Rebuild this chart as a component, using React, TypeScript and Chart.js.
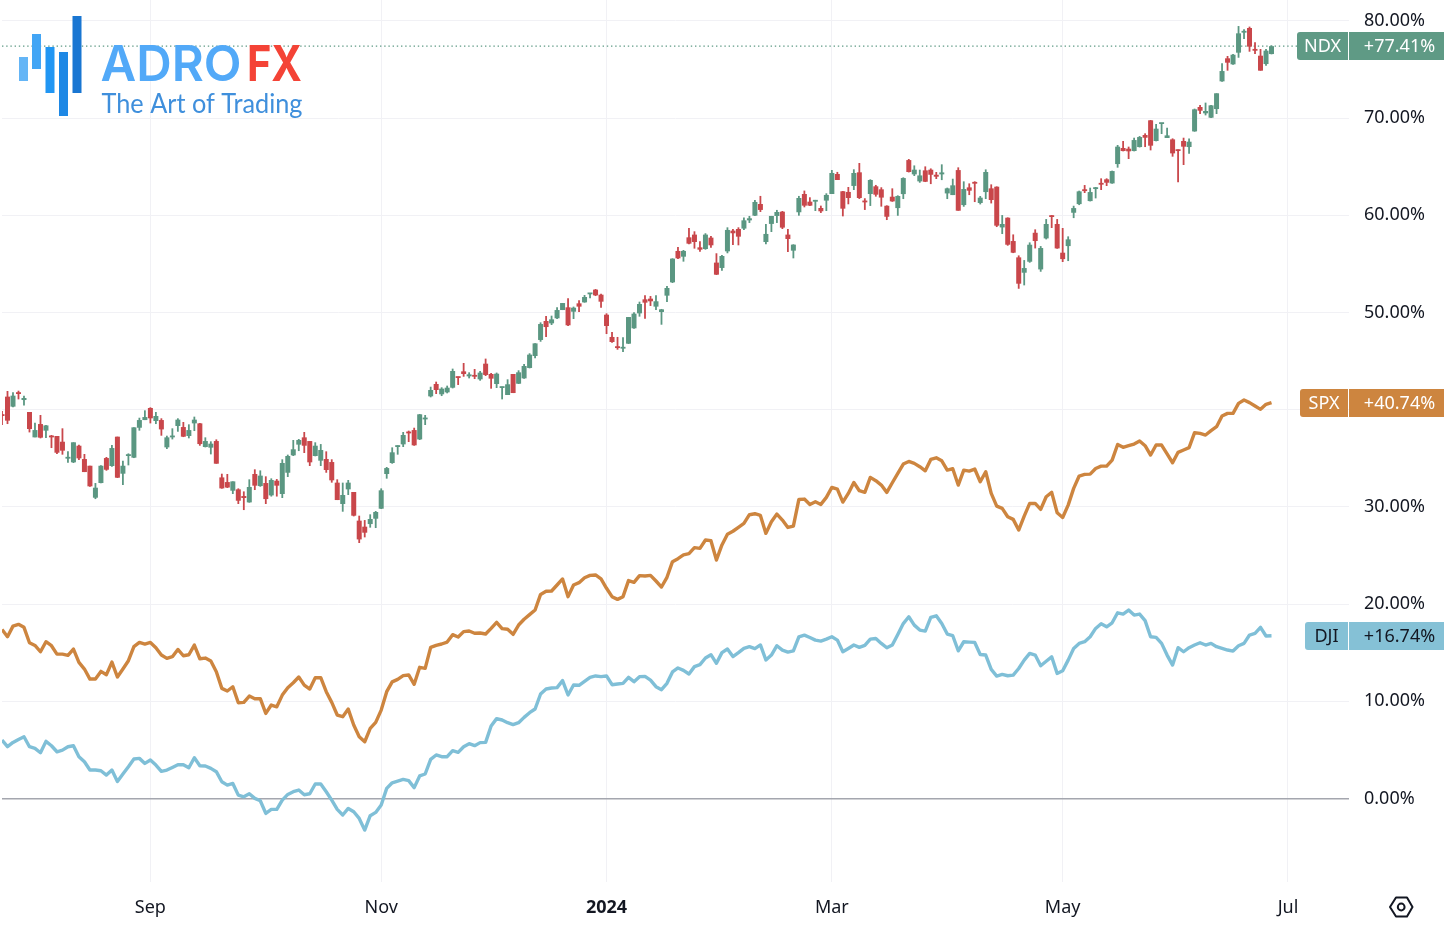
import React, { useEffect, useRef } from "react";
import { Chart, registerables } from "chart.js";

Chart.register(...registerables);

const xTickIndex = [27, 69, 110, 151, 193, 234];
const xTickLabels = ["Sep", "Nov", "2024", "Mar", "May", "Jul"];
const yTickValues = [0, 10, 20, 30, 40, 50, 60, 70, 80];

const ndxHigh = [
  39.87,41.93,41.79,41.96,41.45,39.77,38.67,39.46,38.43,37.4,
  37.3,38.09,35.72,36.65,36.41,35.45,34.24,32.46,34.28,35.14,
  36.37,37.23,34.76,35.51,38.19,39.18,39.94,40.25,39.77,39.12,
  37.33,38.09,39.12,38.74,38.5,39.29,38.64,37.16,36.75,36.95,
  33.42,33.39,32.63,31.91,31.6,32.84,33.87,33.76,33.15,32.94,
  32.87,34.9,35.38,36.89,36.99,37.71,36.78,36.65,36.47,35.72,
  34.9,32.84,32.5,32.77,31.54,29.1,28.65,29.24,29.58,31.91,
  34.11,36.13,36.34,37.71,37.85,38.15,39.56,39.46,42.37,42.89,
  42.31,42.48,44.23,43.4,44.81,43.85,44.19,43.99,45.26,43.78,
  43.82,42.37,43.13,43.68,44.06,44.71,45.81,46.83,48.99,49.65,
  49.68,50.54,50.98,51.46,50.61,51.26,51.81,52.01,52.42,51.94,
  49.92,48.0,47.49,47.45,49.54,50.02,51.12,51.77,51.7,51.77,
  50.37,52.73,55.58,56.75,56.44,58.7,58.36,57.33,58.16,57.88,
  56.1,55.93,58.77,58.6,58.77,59.77,59.94,61.59,62.0,59.12,
  59.94,60.56,60.45,58.6,57.02,62.0,62.55,61.86,61.59,61.0,
  62.27,64.67,64.47,62.51,62.92,64.74,65.39,61.76,63.71,63.13,
  62.89,61.03,62.78,62.06,63.91,65.8,65.14,64.7,65.04,64.83,
  64.46,65.25,62.85,63.77,64.94,63.5,63.29,63.5,61.99,64.73,
  63.19,62.98,60.03,59.79,58.04,55.88,55.4,57.22,58.56,56.84,
  59.62,60.03,59.62,58.7,57.84,60.99,62.54,63.12,62.85,62.92,
  63.81,63.81,64.6,67.24,67.65,67.07,67.99,68.16,68.44,69.81,
  69.4,69.5,69.02,67.92,66.79,67.99,67.92,70.98,71.35,71.6,
  71.35,72.56,75.64,76.4,76.6,79.48,79.14,79.42,77.8,77.12,77.12,77.49,
];

const ndxLow = [
  38.43,38.53,40.25,41.07,40.45,37.67,37.16,37.06,37.09,36.06,
  35.45,35.38,34.55,34.52,34.83,33.59,32.08,30.81,32.43,33.73,
  34.14,32.98,32.26,34.28,35.03,37.85,38.94,38.6,38.53,37.33,
  35.96,36.95,37.74,37.19,37.06,37.81,36.3,36.13,35.41,34.45,
  31.88,31.95,31.33,30.3,29.68,30.44,31.74,32.08,30.3,31.07,
  31.07,30.92,33.08,35.24,35.75,35.55,34.21,35.21,34.21,33.52,
  32.5,30.71,29.51,31.23,29.03,26.29,26.87,27.87,27.83,29.79,
  32.91,34.45,35.38,36.17,36.68,36.3,36.89,38.43,41.28,41.62,
  41.41,41.69,42.2,42.55,43.4,43.23,43.16,42.99,43.47,42.17,
  42.24,41.07,41.52,41.72,42.65,43.2,44.26,45.29,47.0,47.49,
  48.72,49.34,50.26,48.62,49.34,50.06,51.02,51.46,51.7,50.5,
  47.79,46.9,46.18,45.94,46.77,48.34,49.58,49.37,50.68,50.26,
  48.75,51.09,53.04,55.51,55.24,57.02,56.58,56.27,56.47,56.68,
  53.87,54.31,56.1,56.95,56.92,58.5,59.22,59.94,60.35,57.02,
  58.29,59.22,58.6,56.23,55.58,59.97,60.83,60.97,60.45,60.25,
  60.45,62.2,63.64,59.9,61.14,62.61,61.69,60.56,60.97,61.93,
  60.9,59.52,61.4,59.96,61.68,64.42,64.05,63.36,63.43,63.22,
  63.74,63.63,61.68,62.09,60.48,60.89,62.09,61.37,61.13,61.68,
  61.23,58.8,58.08,56.88,56.12,52.45,52.8,55.13,56.6,54.2,
  57.53,58.7,56.57,55.2,55.3,59.72,61.06,62.3,61.44,61.75,
  62.61,63.02,63.26,64.91,66.59,65.8,66.59,66.99,67.03,66.69,
  67.62,68.37,67.96,66.04,63.4,65.18,66.35,68.61,70.43,70.29,
  70.02,70.43,73.76,74.89,75.5,76.22,78.15,76.84,76.6,74.89,75.4,76.57,
];

const ndxOpen = [
  39.53,41.35,40.32,41.76,41.0,39.77,37.16,38.53,37.85,37.3,
  37.3,36.71,34.97,34.59,36.3,34.93,34.24,30.95,32.46,35.03,
  34.21,37.23,33.42,35.24,35.07,38.15,38.94,40.18,38.84,38.94,
  36.13,37.16,38.33,38.22,37.3,38.6,38.6,36.17,36.1,36.78,
  33.04,32.56,31.67,31.81,31.12,30.47,33.39,32.15,32.46,31.19,
  32.7,31.33,33.52,35.31,36.41,37.16,36.78,35.24,34.76,34.93,
  34.62,32.5,30.3,31.81,31.54,28.59,27.97,28.24,28.79,29.82,
  33.39,34.52,36.17,36.44,37.71,37.91,36.95,39.01,41.38,42.65,
  41.59,41.79,42.27,43.34,43.95,43.44,43.54,43.13,44.74,43.68,
  42.65,42.24,41.52,43.68,42.68,43.23,44.3,45.53,47.18,49.13,
  48.89,49.41,50.26,50.54,50.09,50.95,51.05,51.88,52.36,51.84,
  49.78,47.49,46.42,46.29,46.8,48.38,49.92,51.36,51.43,50.61,
  50.06,51.74,53.11,56.34,55.75,57.74,58.02,56.71,56.54,57.71,
  55.14,54.59,56.3,58.43,58.6,58.64,59.49,59.97,61.17,57.26,
  59.12,59.94,60.38,58.02,56.37,60.32,62.2,61.41,61.41,60.76,
  61.52,62.2,64.26,62.48,62.41,63.03,64.43,61.48,62.2,62.99,
  62.68,60.99,61.92,60.75,62.19,65.69,64.22,63.5,64.63,64.7,
  64.18,64.22,62.26,62.09,64.66,61.06,62.88,63.43,61.27,62.4,
  62.78,62.95,58.76,59.76,57.36,55.68,54.1,55.23,58.21,54.44,
  57.63,59.96,59.11,56.16,56.84,60.27,61.16,62.67,61.47,62.71,
  63.29,63.71,63.29,65.28,66.93,66.86,66.62,67.03,68.27,69.78,
  67.65,69.4,67.96,67.82,66.72,67.65,67.03,68.64,71.15,70.5,
  70.05,70.94,73.79,76.16,75.54,76.74,78.8,79.28,77.08,76.43,75.57,76.6,
];

const ndxClose = [
  39.36,38.88,41.45,41.62,41.21,38.02,37.91,37.13,38.39,37.16,
  35.58,35.79,35.1,36.65,35.0,33.59,32.12,31.98,34.24,33.83,
  36.06,33.01,34.24,35.31,38.19,38.94,39.25,39.12,39.36,37.98,
  37.16,37.3,38.98,37.23,37.91,38.98,36.47,36.78,36.51,34.45,
  31.91,32.0,32.63,30.64,30.92,32.05,32.19,33.22,30.81,32.77,
  32.19,34.52,35.24,35.93,36.89,36.3,34.59,36.3,35.86,33.8,
  32.74,30.71,31.23,32.5,29.1,26.66,27.35,28.76,29.48,31.71,
  34.0,35.62,36.23,37.4,37.57,36.34,39.53,39.12,42.03,42.03,
  42.17,42.27,43.99,43.27,43.68,43.64,43.4,43.82,43.58,43.2,
  43.71,42.31,42.62,41.72,43.85,44.5,45.67,46.83,48.82,48.51,
  49.3,50.26,50.98,48.69,50.5,50.61,51.6,51.94,51.77,51.12,
  48.62,46.97,46.35,46.42,49.54,49.89,50.88,51.02,51.16,51.16,
  50.33,52.53,55.55,55.58,56.34,57.09,57.26,56.47,58.02,56.92,
  53.9,55.82,58.5,58.16,57.81,59.49,59.7,61.38,60.56,58.09,
  59.94,60.35,58.74,57.57,56.99,61.79,61.0,61.0,61.48,60.42,
  62.1,64.36,63.64,60.69,61.79,64.36,61.79,61.34,63.64,62.13,
  61.83,59.86,61.44,61.99,63.84,64.46,64.7,64.11,63.46,64.18,
  63.98,64.42,62.78,63.09,60.48,62.71,62.54,63.26,61.82,64.46,
  61.58,58.94,59.11,56.98,56.16,52.97,54.58,56.98,57.36,56.64,
  59.11,59.83,56.6,55.5,57.53,60.75,62.47,62.5,62.4,62.81,
  63.16,63.36,64.56,67.07,66.62,66.59,67.75,68.06,67.99,67.17,
  68.92,69.47,68.23,66.38,66.62,67.07,67.58,70.91,70.77,70.74,
  71.32,72.56,74.85,75.71,76.53,78.73,78.93,77.36,76.94,74.89,76.95,77.41,
];

const spxValues = [
  17.4,16.65,17.74,17.92,17.61,16.03,15.75,15.1,16.13,15.72,
  14.86,14.86,14.73,15.38,14.0,13.32,12.29,12.29,13.08,12.74,
  14.04,12.5,13.32,14.18,15.62,16.06,15.89,16.06,15.52,14.76,
  14.42,14.59,15.34,14.69,14.79,15.79,14.38,14.45,14.14,13.05,
  11.33,11.06,11.5,9.86,9.89,10.54,10.27,10.27,8.76,9.62,
  9.44,10.64,11.4,11.91,12.5,11.67,11.26,12.43,12.43,10.99,
  9.89,8.59,8.42,9.2,7.56,6.36,5.84,7.21,7.83,9.1,
  10.99,12.0,12.26,12.64,12.71,11.75,13.5,13.39,15.55,15.76,
  15.9,16.1,16.86,16.62,17.17,17.24,17.0,17.03,16.93,17.51,
  18.13,17.48,17.41,16.89,17.85,18.44,18.92,19.4,21.0,21.32,
  21.35,21.97,22.59,20.77,21.97,22.21,22.72,22.96,23.0,22.59,
  21.63,20.77,20.49,20.77,22.42,22.24,22.93,22.9,22.96,22.38,
  21.76,22.76,24.37,24.68,25.06,25.19,25.81,25.74,26.6,26.53,
  24.54,26.09,27.2,27.5,27.9,28.3,29.2,29.3,29.13,27.28,
  28.48,29.27,28.65,27.89,28.03,30.77,30.81,30.26,30.53,30.26,
  30.98,32.01,31.84,30.5,31.39,32.52,31.67,31.5,33.04,32.7,
  32.25,31.5,32.49,33.45,34.41,34.68,34.48,34.14,33.72,34.89,
  35.06,34.75,33.79,33.93,32.25,33.79,33.69,33.9,32.59,33.62,
  31.39,30.09,29.85,28.99,28.72,27.62,29.06,30.36,30.36,29.75,
  31.05,31.5,29.4,28.92,30.19,31.91,33.18,33.35,33.38,33.96,
  34.2,34.2,34.82,36.43,36.13,36.3,36.47,36.78,36.3,35.34,
  36.37,36.37,35.45,34.55,35.62,35.86,36.1,37.64,37.57,37.4,
  37.85,38.26,39.36,39.63,39.63,40.66,41.0,40.73,40.38,40.04,40.56,40.74,
];

const djiValues = [
  6.01,5.33,5.77,6.08,6.36,5.33,5.16,4.71,5.88,5.43,
  4.81,4.98,5.33,5.43,4.3,3.78,2.93,2.93,2.86,2.41,
  2.93,1.76,2.52,3.27,4.06,4.13,3.61,3.96,3.44,2.79,
  2.93,3.2,3.48,3.48,3.17,4.2,3.37,3.34,3.1,2.76,
  1.73,1.38,1.55,0.35,0.18,0.49,0.01,-0.23,-1.53,-1.12,
  -1.12,-0.16,0.42,0.7,0.87,0.39,0.49,1.49,1.49,0.7,
  -0.16,-1.12,-1.7,-1.02,-1.36,-2.05,-3.25,-1.77,-1.43,-0.67,
  1.04,1.62,1.79,1.97,1.84,1.12,2.32,2.52,4.03,4.48,
  4.3,4.3,4.92,4.75,5.33,5.64,5.44,5.75,5.78,7.46,
  8.22,8.08,7.8,7.6,7.8,8.35,8.83,9.21,10.75,11.27,
  11.37,11.41,12.13,10.65,11.68,11.65,12.06,12.47,12.61,12.54,
  12.61,11.71,11.78,11.85,12.47,12.02,12.54,12.57,12.19,11.51,
  11.2,11.85,13.02,13.43,13.19,12.81,13.57,13.77,14.46,14.8,
  13.91,15.01,15.38,14.6,15.01,15.45,15.62,15.42,15.8,14.25,
  14.76,15.72,15.27,15.07,15.2,16.64,16.81,16.57,16.3,16.2,
  16.4,16.64,16.3,15.1,15.44,15.79,15.55,15.75,16.4,16.47,
  15.96,15.51,15.79,16.88,18.0,18.7,17.84,17.33,17.23,18.63,
  18.8,18.0,16.92,16.75,15.2,16.13,16.09,16.06,14.82,14.76,
  13.28,12.6,12.77,12.63,12.7,13.38,14.24,14.93,14.76,13.66,
  14.12,14.58,12.87,13.14,14.24,15.44,15.96,16.13,16.64,17.5,
  17.98,17.67,18.08,19.11,18.98,19.39,18.87,18.98,18.3,16.65,
  16.58,15.96,14.76,13.73,15.52,15.1,15.52,15.79,16.03,15.79,
  15.96,15.62,15.45,15.28,15.17,15.72,15.96,16.82,16.99,17.61,16.72,16.74,
];

const UP = "#5b9782";
const DOWN = "#c9474b";
const SPX_COLOR = "#cd853f";
const DJI_COLOR = "#7fbfd7";
const BADGE_NDX = "#5f9a85";
const BADGE_DJI = "#85c1d6";
const FONT = '"Noto Sans", "Open Sans", sans-serif';

const badges = [
  { name: "NDX", text: "+77.41%", value: 77.41, left: 1297, fill: BADGE_NDX, ink: "#ffffff" },
  { name: "SPX", text: "+40.74%", value: 40.74, left: 1300, fill: SPX_COLOR, ink: "#ffffff" },
  { name: "DJI", text: "+16.74%", value: 16.74, left: 1305, fill: BADGE_DJI, ink: "#131722" },
];

const logoBars = [
  { x: 19, top: 57, bottom: 81, color: "#64b5f6" },
  { x: 32, top: 34, bottom: 69, color: "#42a5f5" },
  { x: 45.5, top: 47, bottom: 93, color: "#2196f3" },
  { x: 59, top: 52, bottom: 116, color: "#1e88e5" },
  { x: 72.5, top: 16, bottom: 93, color: "#1976d2" },
];

function fitText(ctx: CanvasRenderingContext2D, s: string, x: number, y: number, w: number) {
  const m = ctx.measureText(s).width;
  ctx.save();
  ctx.translate(x, y);
  ctx.scale(w / m, 1);
  ctx.fillText(s, 0, 0);
  ctx.restore();
}

function zeroPadding(s: any) {
  s.paddingTop = 0;
  s.paddingBottom = 0;
  s.paddingLeft = 0;
  s.paddingRight = 0;
}

const overlay = {
  id: "overlay",
  beforeDatasetsDraw(chart: any) {
    const ctx = chart.ctx;
    const y = chart.scales.y.getPixelForValue(77.41);
    ctx.save();
    ctx.strokeStyle = BADGE_NDX;
    ctx.lineWidth = 1.4;
    ctx.setLineDash([1.4, 2.8]);
    ctx.beginPath();
    ctx.moveTo(2, y);
    ctx.lineTo(1297, y);
    ctx.stroke();
    ctx.restore();
  },
  afterDraw(chart: any) {
    const ctx = chart.ctx;
    const yScale = chart.scales.y;
    ctx.save();
    // price badges
    ctx.font = `18px ${FONT}`;
    ctx.textBaseline = "middle";
    ctx.textAlign = "center";
    badges.forEach((b) => {
      const cy = yScale.getPixelForValue(b.value);
      const top = Math.round(cy - 14);
      ctx.fillStyle = b.fill;
      ctx.beginPath();
      ctx.roundRect(b.left, top, 1348 - b.left, 28, [3, 0, 0, 3]);
      ctx.fill();
      ctx.fillRect(1349, top, 95, 28);
      ctx.fillStyle = b.ink;
      ctx.fillText(b.name, (b.left + 1348) / 2, top + 15);
      ctx.fillText(b.text, 1399.5, top + 15);
    });
    // logo
    logoBars.forEach((b) => {
      ctx.fillStyle = b.color;
      ctx.fillRect(b.x, b.top, 9, b.bottom - b.top);
    });
    ctx.textAlign = "left";
    ctx.textBaseline = "alphabetic";
    ctx.font = '600 50px Inter, "Noto Sans", sans-serif';
    ctx.fillStyle = "#52a9f8";
    fitText(ctx, "ADRO", 100.5, 81, 141);
    ctx.fillStyle = "#f44336";
    ctx.font = '700 50px Inter, "Noto Sans", sans-serif';
    fitText(ctx, "FX", 247, 81, 55);
    ctx.font = '400 27px Lato, "Open Sans", sans-serif';
    ctx.fillStyle = "#3f8fdc";
    fitText(ctx, "The Art of Trading", 101.5, 112.5, 201);
    // settings hexagon
    ctx.strokeStyle = "#131722";
    ctx.lineWidth = 2;
    ctx.lineJoin = "round";
    ctx.beginPath();
    ctx.moveTo(1390, 907);
    ctx.lineTo(1396, 897.5);
    ctx.lineTo(1407, 897.5);
    ctx.lineTo(1412.5, 907);
    ctx.lineTo(1407, 916.5);
    ctx.lineTo(1396, 916.5);
    ctx.closePath();
    ctx.stroke();
    ctx.beginPath();
    ctx.arc(1401.2, 907, 3.4, 0, Math.PI * 2);
    ctx.stroke();
    ctx.restore();
  },
};

export default function App() {
  const ref = useRef<HTMLCanvasElement | null>(null);
  useEffect(() => {
    if (!ref.current) return;
    const candleColors = ndxClose.map((c, i) => (c >= ndxOpen[i] ? UP : DOWN));
    const chart = new Chart(ref.current, {
      type: "bar",
      data: {
        datasets: [
          {
            type: "bar",
            label: "NDX wick",
            data: ndxHigh.map((h, i) => ({ x: i, y: [ndxLow[i], h] })),
            backgroundColor: candleColors,
            barThickness: 1.8,
            grouped: false,
            inflateAmount: 0,
            borderWidth: 0,
          },
          {
            type: "bar",
            label: "NDX",
            data: ndxOpen.map((o, i) => ({ x: i, y: [o, ndxClose[i]] })),
            backgroundColor: candleColors,
            barThickness: 5,
            grouped: false,
            inflateAmount: 0,
            borderWidth: 0,
            minBarLength: 1.8,
          },
          {
            type: "line",
            label: "SPX",
            data: spxValues.map((v, i) => ({ x: i, y: v })),
            borderColor: SPX_COLOR,
            borderWidth: 3.4,
            pointRadius: 0,
            tension: 0,
            borderJoinStyle: "round",
          },
          {
            type: "line",
            label: "DJI",
            data: djiValues.map((v, i) => ({ x: i, y: v })),
            borderColor: DJI_COLOR,
            borderWidth: 3.4,
            pointRadius: 0,
            tension: 0,
            borderJoinStyle: "round",
          },
        ],
      } as any,
      options: {
        responsive: false,
        animation: false,
        devicePixelRatio: 1,
        layout: { padding: { left: 2, top: 0, right: 0, bottom: 0 } },
        plugins: { legend: { display: false }, tooltip: { enabled: false } },
        scales: {
          x: {
            type: "linear",
            offset: false,
            min: 0,
            max: 245.1,
            border: { display: false },
            grid: { offset: false, color: "#f1f1f5", lineWidth: 1, drawTicks: false },
            afterBuildTicks: (s: any) => {
              s.ticks = xTickIndex.map((v) => ({ value: v }));
            },
            afterFit: (s: any) => {
              s.height = 44;
              zeroPadding(s);
            },
            ticks: {
              autoSkip: false,
              maxRotation: 0,
              padding: 15,
              color: "#131722",
              font: (c: any) => ({
                family: FONT,
                size: 18,
                weight: c.tick && c.tick.value === 110 ? "bold" : "normal",
              }),
              callback: (v: any) => xTickLabels[xTickIndex.indexOf(v)] ?? "",
            },
          },
          y: {
            type: "linear",
            position: "right",
            min: -8.59,
            max: 82.16,
            border: { display: false },
            grid: {
              color: (c: any) => (c.tick && c.tick.value === 0 ? "#a4a6ae" : "#f1f1f5"),
              lineWidth: (c: any) => (c.tick && c.tick.value === 0 ? 1.6 : 1),
              drawTicks: false,
            },
            afterBuildTicks: (s: any) => {
              s.ticks = yTickValues.map((v) => ({ value: v }));
            },
            afterFit: (s: any) => {
              s.width = 95;
              zeroPadding(s);
            },
            ticks: {
              padding: 15,
              color: "#131722",
              font: { family: FONT, size: 18 },
              callback: (v: any) => `${Number(v).toFixed(2)}%`,
            },
          },
        },
      } as any,
      plugins: [overlay],
    });
    return () => chart.destroy();
  }, []);
  return (
    <canvas
      ref={ref}
      width={1444}
      height={926}
      style={{ position: "fixed", left: 0, top: 0, width: 1444, height: 926, display: "block", background: "#fff" }}
    />
  );
}
